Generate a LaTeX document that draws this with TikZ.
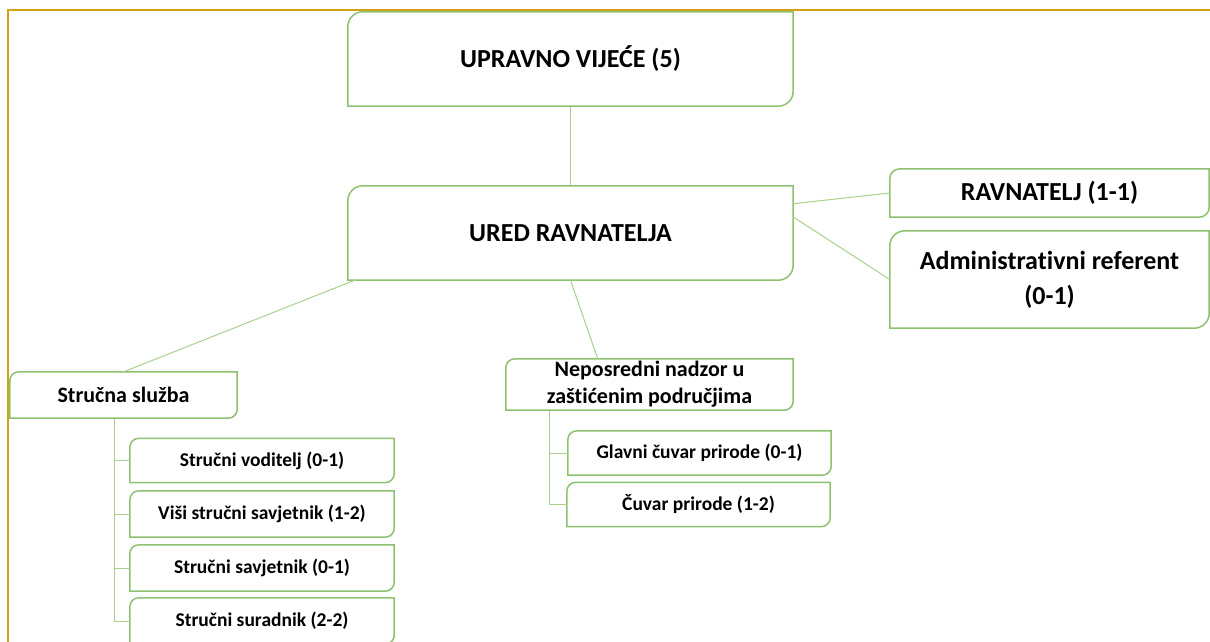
\documentclass[tikz,border=0pt]{standalone}
\usepackage{fontspec}
\setmainfont{Carlito}[Ligatures=NoCommon]
\usetikzlibrary{calc}

\definecolor{boxgreen}{HTML}{8DC26F}
\definecolor{linkgreen}{HTML}{A9D18E}
\definecolor{framegold}{HTML}{D4A017}

% outline with rounded top-left and bottom-right corners
\newcommand{\diagframe}[2][9pt]{%
  \draw[boxline] (#2.south west) -- ([yshift=-#1]#2.north west)
    arc[start angle=180, end angle=90, radius=#1] -- (#2.north east)
    -- ([yshift=#1]#2.south east)
    arc[start angle=0, end angle=-90, radius=#1] -- cycle;}

\begin{document}
\begin{tikzpicture}[x=1pt, y=-1pt]
    % Define styles
    \tikzset{
        boxline/.style={draw=boxgreen, line width=1.5pt},
        link/.style={draw=linkgreen, line width=1pt},
        bigtext/.style={inner sep=0pt, align=center, font=\fontsize{26}{35}\selectfont\bfseries},
        midtext/.style={inner sep=0pt, align=center, font=\fontsize{22}{27}\selectfont\bfseries},
        smalltext/.style={inner sep=0pt, align=center, font=\fontsize{19.5}{23}\selectfont\bfseries}
    }
    \useasboundingbox (0,0) rectangle (1210,642);
    \fill[white] (0,0) rectangle (1210,642);

    % Frame
    \draw[framegold, line width=2pt] (8,660) -- (8,10) -- (1230,10);

    % Nodes
    \node[bigtext, minimum width=445pt, minimum height=94pt] (council) at (570.5,59) {UPRAVNO VIJEĆE (5)};
    \node[bigtext, minimum width=445pt, minimum height=94pt] (office) at (570.5,233) {URED RAVNATELJA};
    \node[bigtext, minimum width=319pt, minimum height=48pt] (director) at (1049.5,193) {RAVNATELJ (1-1)};
    \node[bigtext, minimum width=319pt, minimum height=97pt] (admin) at (1049.5,279.5) {Administrativni referent\\(0-1)};

    \node[midtext, minimum width=227pt, minimum height=46pt] (service) at (123.5,395) {Stručna služba};
    \node[smalltext, minimum width=264pt, minimum height=44pt] (leader) at (262,460.5) {Stručni voditelj (0-1)};
    \node[smalltext, minimum width=264pt, minimum height=46pt] (senior) at (262,514) {Viši stručni savjetnik (1-2)};
    \node[smalltext, minimum width=264pt, minimum height=46pt] (advisor) at (262,568) {Stručni savjetnik (0-1)};
    \node[smalltext, minimum width=264pt, minimum height=46pt] (associate) at (262,621) {Stručni suradnik (2-2)};

    \node[midtext, minimum width=287pt, minimum height=51pt] (patrol) at (649.5,384.5) {Neposredni nadzor u\\zaštićenim područjima};
    \node[smalltext, minimum width=263pt, minimum height=44pt] (headranger) at (699.5,453) {Glavni čuvar prirode (0-1)};
    \node[smalltext, minimum width=263pt, minimum height=44pt] (ranger) at (698.5,504.5) {Čuvar prirode (1-2)};

    % Outlines
    \diagframe[15pt]{council}
    \diagframe[15pt]{office}
    \diagframe[10pt]{director}
    \diagframe[15pt]{admin}
    \diagframe{service}
    \foreach \n in {leader, senior, advisor, associate, headranger, ranger}
        {\diagframe{\n}}
    \diagframe{patrol}

    % Connectors
    \draw[link] (council.south) -- (office.north);
    \draw[link] ($(office.north east)!0.19!(office.south east)$) -- (director.west);
    \draw[link] ($(office.north east)!0.33!(office.south east)$) -- (admin.west);
    \draw[link] ([xshift=7pt]office.south west) -- (service.north);
    \draw[link] (office.south) -- ($(patrol.north west)!0.32!(patrol.north east)$);

    \coordinate (servicestem) at ([xshift=105pt]service.south west);
    \foreach \n in {leader, senior, advisor, associate}
        {\draw[link] (servicestem) |- (\n.west);}
    \coordinate (patrolstem) at ([xshift=44pt]patrol.south west);
    \foreach \n in {headranger, ranger}
        {\draw[link] (patrolstem) |- (\n.west);}
\end{tikzpicture}
\end{document}
